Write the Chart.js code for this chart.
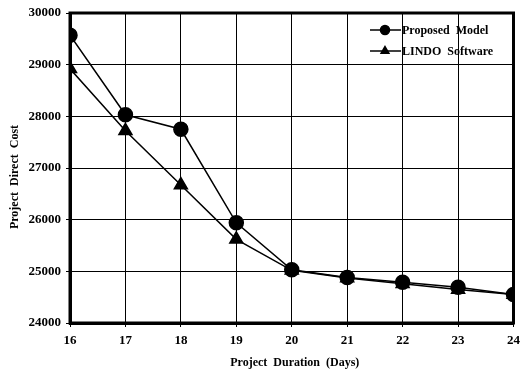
<!DOCTYPE html>
<html>
<head>
<meta charset="utf-8">
<script src="https://cdn.jsdelivr.net/npm/chart.js@4"></script>
<style>
  html, body { margin: 0; padding: 0; background: #fff; }
  #wrap { width: 526px; height: 371px; }
</style>
</head>
<body>
<div id="wrap"><canvas id="c" width="526" height="371"></canvas></div>
<script>
// Project duration (days) and direct cost for the two methods
const durations = [16, 17, 18, 19, 20, 21, 22, 23, 24];
const proposedModel = [29570, 28030, 27750, 25940, 25030, 24880, 24790, 24690, 24550];
const lindoSoftware = [28920, 27720, 26670, 25620, 25020, 24870, 24760, 24650, 24550];
const costTicks = [24000, 25000, 26000, 27000, 28000, 29000, 30000];
const xTitle = 'Project  Duration  (Days)';
const yTitle = 'Project  Direct  Cost';

const FONT = "'Liberation Serif', 'Times New Roman', serif";

const toXY = (ys) => durations.map((d, i) => ({ x: d, y: ys[i] }));

// Thick frame around the plotting area
const framePlugin = {
  id: 'frame',
  beforeDatasetsDraw(chart) {
    const a = chart.chartArea, ctx = chart.ctx;
    ctx.save();
    ctx.strokeStyle = '#000';
    ctx.lineWidth = 3;
    ctx.strokeRect(a.left, a.top, a.right - a.left, a.bottom - a.top);
    ctx.restore();
  }
};

// Axis titles
const titlesPlugin = {
  id: 'axisTitles',
  afterDraw(chart) {
    const ctx = chart.ctx;
    ctx.save();
    ctx.font = 'bold 12px ' + FONT;
    ctx.fillStyle = '#000';
    ctx.textAlign = 'center';
    ctx.textBaseline = 'middle';
    const a = chart.chartArea;
    ctx.fillText(xTitle, (a.left + a.right) / 2 + 3, 363);
    ctx.translate(15, 177);
    ctx.rotate(-Math.PI / 2);
    ctx.fillText(yTitle, 0, 0);
    ctx.restore();
  }
};

// Legend drawn inside the plot: short line with the series marker, then label
const insideLegend = {
  id: 'insideLegend',
  afterDraw(chart) {
    const ctx = chart.ctx;
    ctx.save();
    ctx.font = 'bold 12px ' + FONT;
    ctx.textBaseline = 'middle';
    chart.data.datasets.forEach((ds, i) => {
      const y = 30 + i * 21;
      ctx.strokeStyle = '#000';
      ctx.lineWidth = 1.5;
      ctx.beginPath();
      ctx.moveTo(370, y);
      ctx.lineTo(401, y);
      ctx.stroke();
      ctx.fillStyle = '#000';
      Chart.helpers.drawPoint(ctx, {
        pointStyle: ds.pointStyle, radius: 4.5, borderWidth: 1
      }, 385, y);
      ctx.fillStyle = '#000';
      ctx.fillText(ds.label, 402, y + 1);
    });
    ctx.restore();
  }
};

new Chart(document.getElementById('c'), {
  type: 'line',
  data: {
    datasets: [
      {
        label: 'Proposed  Model',
        data: toXY(proposedModel),
        borderColor: '#000',
        backgroundColor: '#000',
        borderWidth: 1.5,
        pointStyle: 'circle',
        pointRadius: 7,
        pointBackgroundColor: '#000',
        pointBorderColor: '#000',
        tension: 0
      },
      {
        label: 'LINDO  Software',
        data: toXY(lindoSoftware),
        borderColor: '#000',
        backgroundColor: '#000',
        borderWidth: 1.5,
        pointStyle: 'triangle',
        pointRadius: 7.5,
        pointBackgroundColor: '#000',
        pointBorderColor: '#000',
        tension: 0
      }
    ]
  },
  options: {
    responsive: false,
    animation: false,
    layout: { padding: { top: 13, right: 11, left: 0, bottom: 0 } },
    plugins: {
      legend: { display: false },
      tooltip: { enabled: false }
    },
    scales: {
      x: {
        type: 'linear',
        min: 16,
        max: 24,
        afterBuildTicks(scale) { scale.ticks = durations.map(v => ({ value: v })); },
        ticks: {
          color: '#000',
          font: { family: FONT, size: 13, weight: 'bold' },
          padding: 6
        },
        grid: { color: '#000', lineWidth: 1, tickLength: 4, tickColor: '#000' },
        border: { color: '#000', width: 3 },
        title: { display: false },
        afterFit(scale) { scale.height = 48; }
      },
      y: {
        type: 'linear',
        min: 24000,
        max: 30000,
        afterBuildTicks(scale) { scale.ticks = costTicks.map(v => ({ value: v })); },
        ticks: {
          color: '#000',
          font: { family: FONT, size: 13, weight: 'bold' },
          padding: 5,
          callback: (v) => String(v)
        },
        grid: { color: '#000', lineWidth: 1, tickLength: 4, tickColor: '#000' },
        border: { color: '#000', width: 3 },
        title: { display: false },
        afterFit(scale) { scale.width = 70; }
      }
    }
  },
  plugins: [framePlugin, titlesPlugin, insideLegend]
});
</script>
</body>
</html>
